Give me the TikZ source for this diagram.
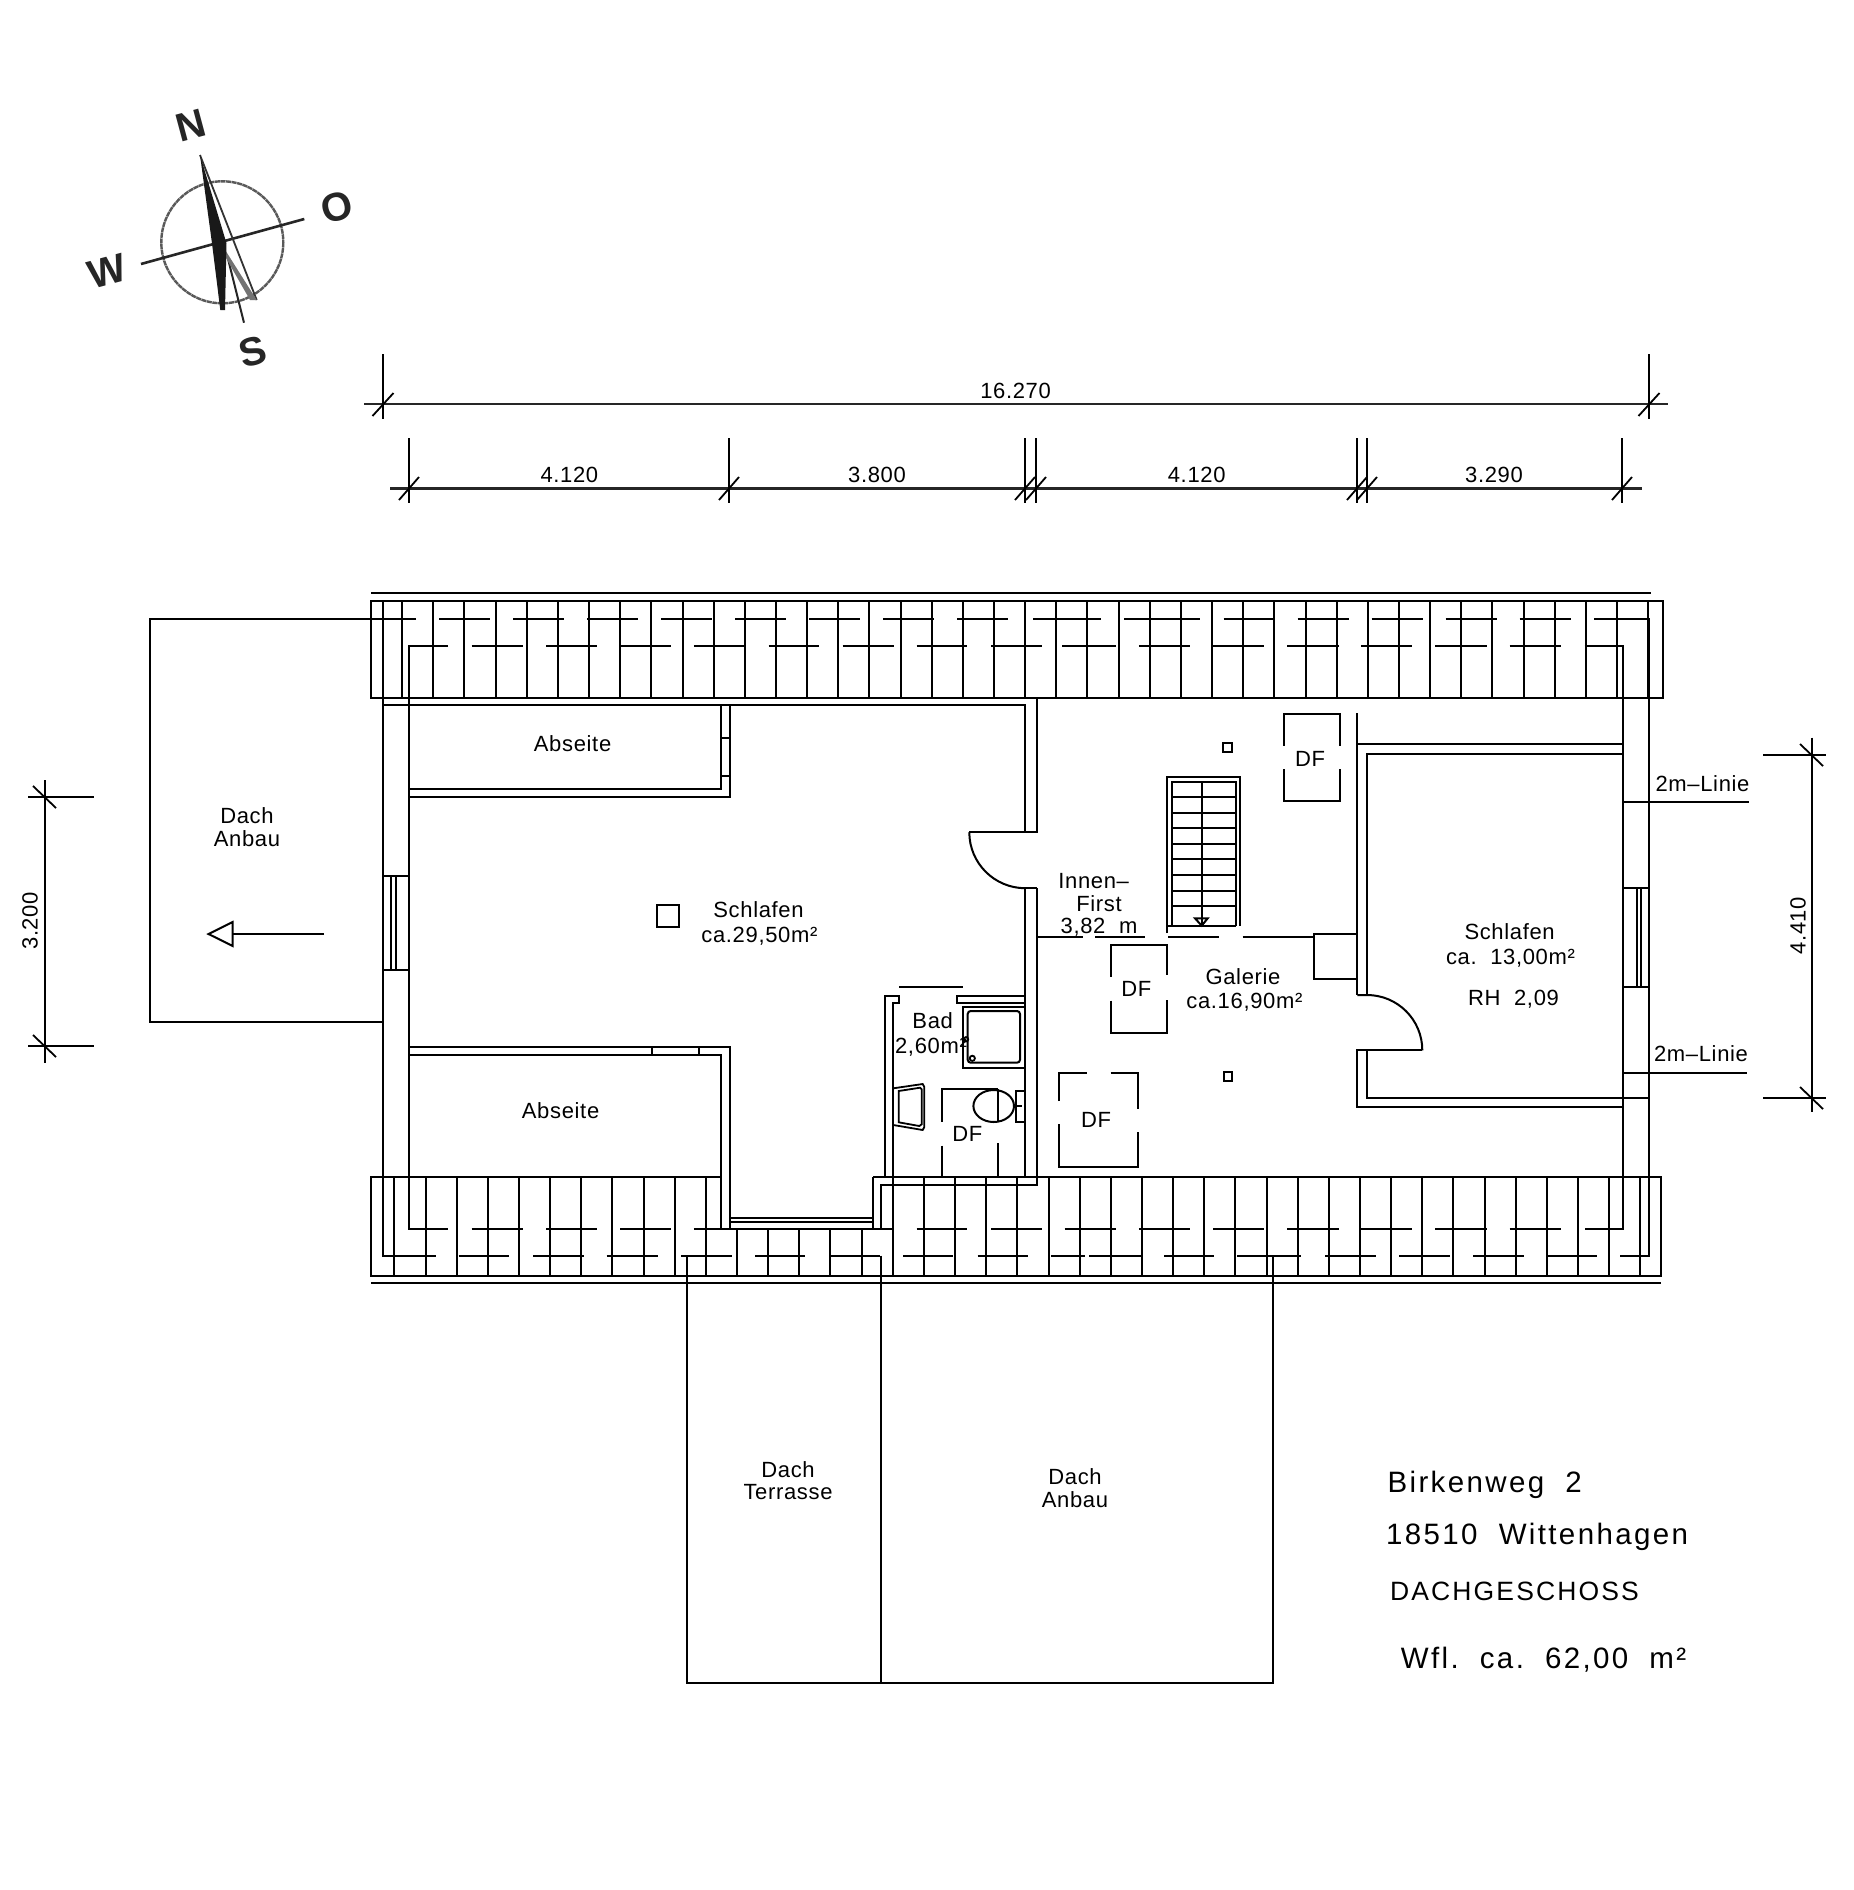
\documentclass[tikz,border=0pt]{standalone}
\usepackage{fontspec}
\setmainfont[LetterSpace=3]{Liberation Sans}
\newfontfamily\plainfont{Liberation Sans}
\newfontfamily\titlefont[LetterSpace=8]{Liberation Sans}
\tikzset{
  ln/.style={line width=2pt,black,line cap=butt,line join=miter},
  thin ln/.style={line width=1.8pt,black},
  dimln/.style={line width=2.4pt,black!85},
  lbl/.style={inner sep=0pt,font=\fontsize{22}{22}\selectfont},
  dimlbl/.style={inner sep=0pt,font=\fontsize{22}{22}\selectfont},
  ttl/.style={inner sep=0pt,anchor=west,font=\fontsize{29.5}{30}\selectfont\titlefont},
  cmp/.style={inner sep=0pt,font=\fontsize{40}{40}\selectfont\plainfont\bfseries,text=black!85},
}
\begin{document}
\begin{tikzpicture}[x=1pt,y=-1pt]
\useasboundingbox (0,0) rectangle (1854,1890);
\fill[white] (0,0) rectangle (1854,1890);

% ---------- compass
\draw[line width=2.4pt,black!65,dash pattern=on 5pt off 0.6pt] (222.3,242.3) circle (61);
\draw[line width=2.6pt,black!85] (141,264) -- (304.3,219);
\draw[line width=2pt,black!85] (228.3,260) -- (244,322.7);
\draw[line width=1.8pt,black!80] (200,155) -- (256.7,300);
\fill[black!55] (222,245) -- (256.7,300) -- (250,300) -- (226,258) -- cycle;
\fill[black!90] (200,155) -- (226.5,243.3) -- (225,310) -- (220.3,310) -- (212,243.3) -- cycle;
\node[cmp,rotate=15] (cN) at (190.7,125) {N};
\node[cmp,rotate=15] (cO) at (336.7,207.3) {O};
\node[cmp,rotate=15] (cW) at (106.7,271.7) {W};
\node[cmp,rotate=15] (cS) at (253.3,351.7) {S};

% ---------- top dimensions
\draw[dimln] (364,404) -- (1668,404);
\foreach \x in {383,1649} {
  \draw[thin ln] (\x,354) -- (\x,419);
  \draw[thin ln] (\x-10.5,416) -- (\x+10.5,393);
}
\draw[dimln] (390,488.3) -- (1642,488.3);
\foreach \x in {409,729,1025,1036,1357,1367,1622} {
  \draw[thin ln] (\x,438.3) -- (\x,503.3);
  \draw[thin ln] (\x-10,500) -- (\x+10,477);
}
\node[dimlbl] (d0) at (1015.6,391) {16.270};
\node[dimlbl] (d1) at (569.4,475) {4.120};
\node[dimlbl] (d2) at (877,475) {3.800};
\node[dimlbl] (d3) at (1196.7,475) {4.120};
\node[dimlbl] (d4) at (1494,475) {3.290};

% ---------- left dimension
\draw[ln] (45,780) -- (45,1063);
\foreach \y in {797,1046} {
  \draw[thin ln] (28,\y) -- (94,\y);
  \draw[thin ln] (33,\y-11) -- (56,\y+11);
}
\node[dimlbl,rotate=90] (d5) at (30,921) {3.200};

% ---------- right dimension
\draw[ln] (1812,737.7) -- (1812,1112);
\foreach \y in {755,1098} {
  \draw[thin ln] (1763,\y) -- (1826,\y);
  \draw[thin ln] (1800,\y-11) -- (1823,\y+11);
}
\node[dimlbl,rotate=90] (d6) at (1798,925.7) {4.410};

% ---------- top roof band
\draw[ln] (371,592.5) -- (1651,592.5);
\draw[ln] (371,600.5) rectangle (1663,697.5);
\foreach \k in {0,...,40} \draw[ln] ({round(402.2+31.15*\k)},600.5) -- ({round(402.2+31.15*\k)},697.5);
\foreach \k in {0,...,7} \draw[ln] ({439.4+74*\k},619.3) -- ({490.4+74*\k},619.3);
\draw[ln] (1033,619.3) -- (1100.5,619.3);
\draw[ln] (1124,619.3) -- (1200,619.3);
\foreach \k in {0,...,4} \draw[ln] ({1223.6+74*\k},619.3) -- ({1274.6+74*\k},619.3);
\foreach \a/\b in {471.6/522.5,546/596.5,620/671,693.8/744.3,768.6/819,842.5/893.5,916.5/967,991/1041.8,1062/1116,1138.8/1190,1213/1264,1287/1338.5,1361/1412,1435/1487,1509.6/1560.5}
  \draw[ln] (\a,646) -- (\b,646);

% ---------- outer walls
\draw[ln] (416,619.3) -- (149.5,619.3) -- (149.5,1022) -- (383,1022);
\draw[ln] (383,600.5) -- (383,1255.5) -- (435.8,1255.5);
\draw[ln] (448,646) -- (409,646) -- (409,1228.7) -- (448,1228.7);
\draw[ln] (1594,619.3) -- (1649,619.3) -- (1649,1255.5) -- (1620,1255.5);
\draw[ln] (1584.7,646) -- (1622.5,646) -- (1622.5,1228.7) -- (1584.7,1228.7);

% west window
\draw[ln] (383,876.4) -- (409,876.4);
\draw[ln] (383,970) -- (409,970);
\draw[thin ln] (391,876.4) -- (391,970);
\draw[thin ln] (396,876.4) -- (396,970);
% east window
\draw[ln] (1622.5,888) -- (1649,888);
\draw[ln] (1622.5,987) -- (1649,987);
\draw[thin ln] (1637,888) -- (1637,987);
\draw[thin ln] (1641,888) -- (1641,987);

% ---------- bedroom west
\draw[ln] (383,705.4) -- (1025.3,705.4) -- (1025.3,832.2);
\draw[ln] (409,789) -- (721.4,789) -- (721.4,705.4);
\draw[ln] (409,797.4) -- (729.6,797.4) -- (729.6,705.4);
\draw[ln] (721.4,737.6) -- (729.6,737.6);
\draw[ln] (721.4,776.4) -- (729.6,776.4);
\draw[ln] (409,1046.5) -- (729.6,1046.5) -- (729.6,1228.7);
\draw[ln] (409,1054.5) -- (721.4,1054.5) -- (721.4,1228.7);
\draw[ln] (652,1046.5) -- (652,1054.5);
\draw[ln] (698.8,1046.5) -- (698.8,1054.5);
\draw[ln] (656.6,905.4) rectangle (679,927.3);
% central wall + door
\draw[ln] (1037,697.5) -- (1037,832.2) -- (969.3,832.2);
\draw[ln] (969.3,832.2) arc[start angle=180,end angle=270,x radius=56,y radius=-56];
\draw[ln] (1025.3,888) -- (1037,888);
\draw[ln] (1025.3,888) -- (1025.3,1177.3);
\draw[ln] (1037,888) -- (1037,1185.4) -- (880.7,1185.4) -- (880.7,1228.7);
\draw[ln] (873.3,1177.3) -- (873.3,1228.7);
% notch
\draw[ln] (729.6,1217.5) -- (873.3,1217.5);
\draw[ln] (729.6,1222) -- (873.3,1222);

% ---------- bottom roof band
\draw[ln] (371,1282.6) -- (1661,1282.6);
\draw[ln] (721.4,1177.3) -- (371,1177.3) -- (371,1275.5) -- (1661,1275.5) -- (1661,1177.3) -- (873.3,1177.3);
\foreach \k in {0,...,10,16,17,...,40} \draw[ln] ({round(394.4+31.15*\k)},1177.3) -- ({round(394.4+31.15*\k)},1275.5);
\foreach \k in {11,...,15} \draw[ln] ({round(394.4+31.15*\k)},1228.7) -- ({round(394.4+31.15*\k)},1275.5);
\foreach \a/\b in {471.6/522.5,546/596.5,620/671,916.5/967,991/1041.8,1064.6/1116,1138.8/1190,1213/1264,1287/1338.5,1361/1412,1435/1487,1509.6/1560.5}
  \draw[ln] (\a,1228.7) -- (\b,1228.7);
\draw[ln] (693.8,1228.7) -- (892.6,1228.7);
\foreach \a/\b in {458.7/509,533/583.6,606.6/657.5,681.4/732,755/805,829/880,903/953,977.5/1028,1051/1085.4,1089/1141,1164/1214,1237/1301,1325/1376,1399/1450,1473/1524,1547/1597}
  \draw[ln] (\a,1255.5) -- (\b,1255.5);

% ---------- roof extensions below
\draw[ln] (687,1255.5) -- (687,1682.8) -- (1273,1682.8) -- (1273,1255.5);
\draw[ln] (881,1255.5) -- (881,1682.8);

% ---------- bath
\draw[thin ln] (899.3,987.3) -- (962.7,987.3);
\draw[ln] (885,1177.3) -- (885,995.7) -- (899.3,995.7) -- (899.3,1003.3) -- (892.7,1003.3) -- (892.7,1177.3);
\draw[ln] (1025,995.7) -- (957,995.7) -- (957,1003.3) -- (1025,1003.3);
\draw[ln] (962.7,1006.7) rectangle (1025,1068.3);
\draw[ln,rounded corners=3pt] (967.7,1011) rectangle (1020,1062.7);
\draw[thin ln] (972.3,1058.3) circle (2.6);
\draw[thin ln] (966,1039.3) circle (2.2);
\draw[thin ln] (893.3,1088.3) -- (922.7,1084) -- (924.3,1087) -- (924.3,1127) -- (922.7,1130) -- (893.3,1125);
\draw[thin ln] (898.7,1091) -- (920,1087.7) -- (921.7,1089.3) -- (921.7,1124.3) -- (919.3,1126) -- (898.7,1122.3) -- cycle;
% skylight in bath
\draw[ln] (941.7,1121.7) -- (941.7,1089.3) -- (998.3,1089.3);
\draw[ln] (941.7,1145.7) -- (941.7,1177.3);
\draw[ln] (997.7,1143.3) -- (997.7,1177.3);
% toilet
\draw[ln] (993.7,1106) ellipse[x radius=20.3,y radius=16];
\draw[ln] (997.7,1089.3) -- (997.7,1122.3);
\draw[ln] (1015.7,1090.7) rectangle (1025,1122.3);
\draw[thin ln] (1012.7,1105.7) -- (1021.7,1105.7);

% ---------- skylights
\draw[ln] (1110.7,976.7) -- (1110.7,945) -- (1166.9,945) -- (1166.9,975);
\draw[ln] (1110.7,1000.7) -- (1110.7,1032.7) -- (1166.9,1032.7) -- (1166.9,1000);
\draw[ln] (1059,1101) -- (1059,1073.3) -- (1086.7,1073.3);
\draw[ln] (1110.7,1073.3) -- (1138.3,1073.3) -- (1138.3,1109);
\draw[ln] (1059,1124) -- (1059,1167.3) -- (1138.3,1167.3) -- (1138.3,1132);
\draw[ln] (1284,745.7) -- (1284,714) -- (1340.3,714) -- (1340.3,745.7);
\draw[ln] (1284,769.3) -- (1284,801.3) -- (1340.3,801.3) -- (1340.3,769.3);
\draw[ln] (1223.4,743.3) rectangle (1231.7,752.3);
\draw[ln] (1223.6,1072.4) rectangle (1231.8,1081);

% ---------- stair
\draw[ln] (1166.7,933) -- (1166.7,777.3) -- (1240,777.3) -- (1240,925.7);
\draw[ln] (1171.7,925.7) -- (1171.7,781.7) -- (1236,781.7) -- (1236,925.7);
\foreach \y in {797.3,812.7,828.3,844,859.3,875,890.7,906}
  \draw[ln] (1171.7,\y) -- (1236,\y);
\draw[ln] (1166.7,925.7) -- (1236,925.7);
\draw[ln] (1201.7,781.7) -- (1201.7,925.7);
\draw[ln] (1195,918.3) -- (1207.7,918.3) -- (1201.7,925.7) -- cycle;

% ---------- ridge line
\foreach \a/\b in {1037/1083,1095/1145,1168.3/1219.3,1242.7/1314}
  \draw[ln] (\a,937.2) -- (\b,937.2);
% chimney
\draw[ln] (1357.3,934.3) -- (1314,934.3) -- (1314,979.3) -- (1357.3,979.3);

% ---------- east bedroom
\draw[ln] (1357.3,713.3) -- (1357.3,995);
\draw[ln] (1357.3,744.3) -- (1622.5,744.3);
\draw[ln] (1622.5,754) -- (1366.7,754) -- (1366.7,995);
\draw[ln] (1357.3,995) -- (1367,995) arc[start angle=90,end angle=0,x radius=55.3,y radius=-55.3];
\draw[ln] (1422.3,1050.3) -- (1357.3,1050.3) -- (1357.3,1106.8) -- (1622.5,1106.8);
\draw[ln] (1366.7,1050.3) -- (1366.7,1097.9) -- (1649,1097.9);
\draw[ln] (1622.5,801.9) -- (1748.5,801.9);
\draw[ln] (1622.5,1073.3) -- (1747,1073.3);

% ---------- left extension arrow
\draw[ln] (324,934) -- (232.7,934);
\draw[ln] (208.5,934) -- (232.7,922) -- (232.7,946) -- cycle;

% ---------- labels
\node[lbl] (t1) at (247,816) {Dach};
\node[lbl] (t2) at (247,839) {Anbau};
\node[lbl] (t3) at (572.6,743.8) {Abseite};
\node[lbl] (t4) at (560.6,1110.8) {Abseite};
\node[lbl] (t5) at (758.5,909.5) {Schlafen};
\node[lbl] (t6) at (759.4,935.8) {ca.29,50m²};
\node[lbl] (t7) at (932.7,1020.3) {Bad};
\node[lbl] (t8) at (931,1047) {2,60m²};
\node[lbl] (t9) at (967.3,1134.3) {DF};
\node[lbl] (t10) at (1136.3,989.4) {DF};
\node[lbl] (t11) at (1096,1120) {DF};
\node[lbl] (t12) at (1310,759) {DF};
\node[lbl] (t13) at (1093.7,881.3) {Innen–};
\node[lbl] (t14) at (1099,903.7) {First};
\node[lbl] (t15) at (1099,927.3) {3,82\ \ m};
\node[lbl] (t16) at (1243,976.4) {Galerie};
\node[lbl] (t17) at (1244.4,1001.9) {ca.16,90m²};
\node[lbl] (t18) at (1509.6,931.8) {Schlafen};
\node[lbl] (t19) at (1510.5,958) {ca.\ \ 13,00m²};
\node[lbl] (t20) at (1513.5,999.6) {RH\ \ 2,09};
\node[lbl] (t21) at (1702.5,783.6) {2m–Linie};
\node[lbl] (t22) at (1701,1054) {2m–Linie};
\node[lbl] (t23) at (788,1469.4) {Dach};
\node[lbl] (t24) at (788,1492) {Terrasse};
\node[lbl] (t25) at (1075,1476.6) {Dach};
\node[lbl] (t26) at (1075,1499.5) {Anbau};
\node[ttl] (a1) at (1387.4,1485) {Birkenweg\ \ 2};
\node[ttl] (a2) at (1386,1536.5) {18510\ \ Wittenhagen};
\node[ttl,font=\fontsize{26.5}{30}\selectfont\titlefont] (a3) at (1390,1591) {DACHGESCHOSS};
\node[ttl] (a4) at (1400.7,1659.5) {Wfl.\ \ ca.\ \ 62,00\ \ m²};
\end{tikzpicture}
\end{document}
